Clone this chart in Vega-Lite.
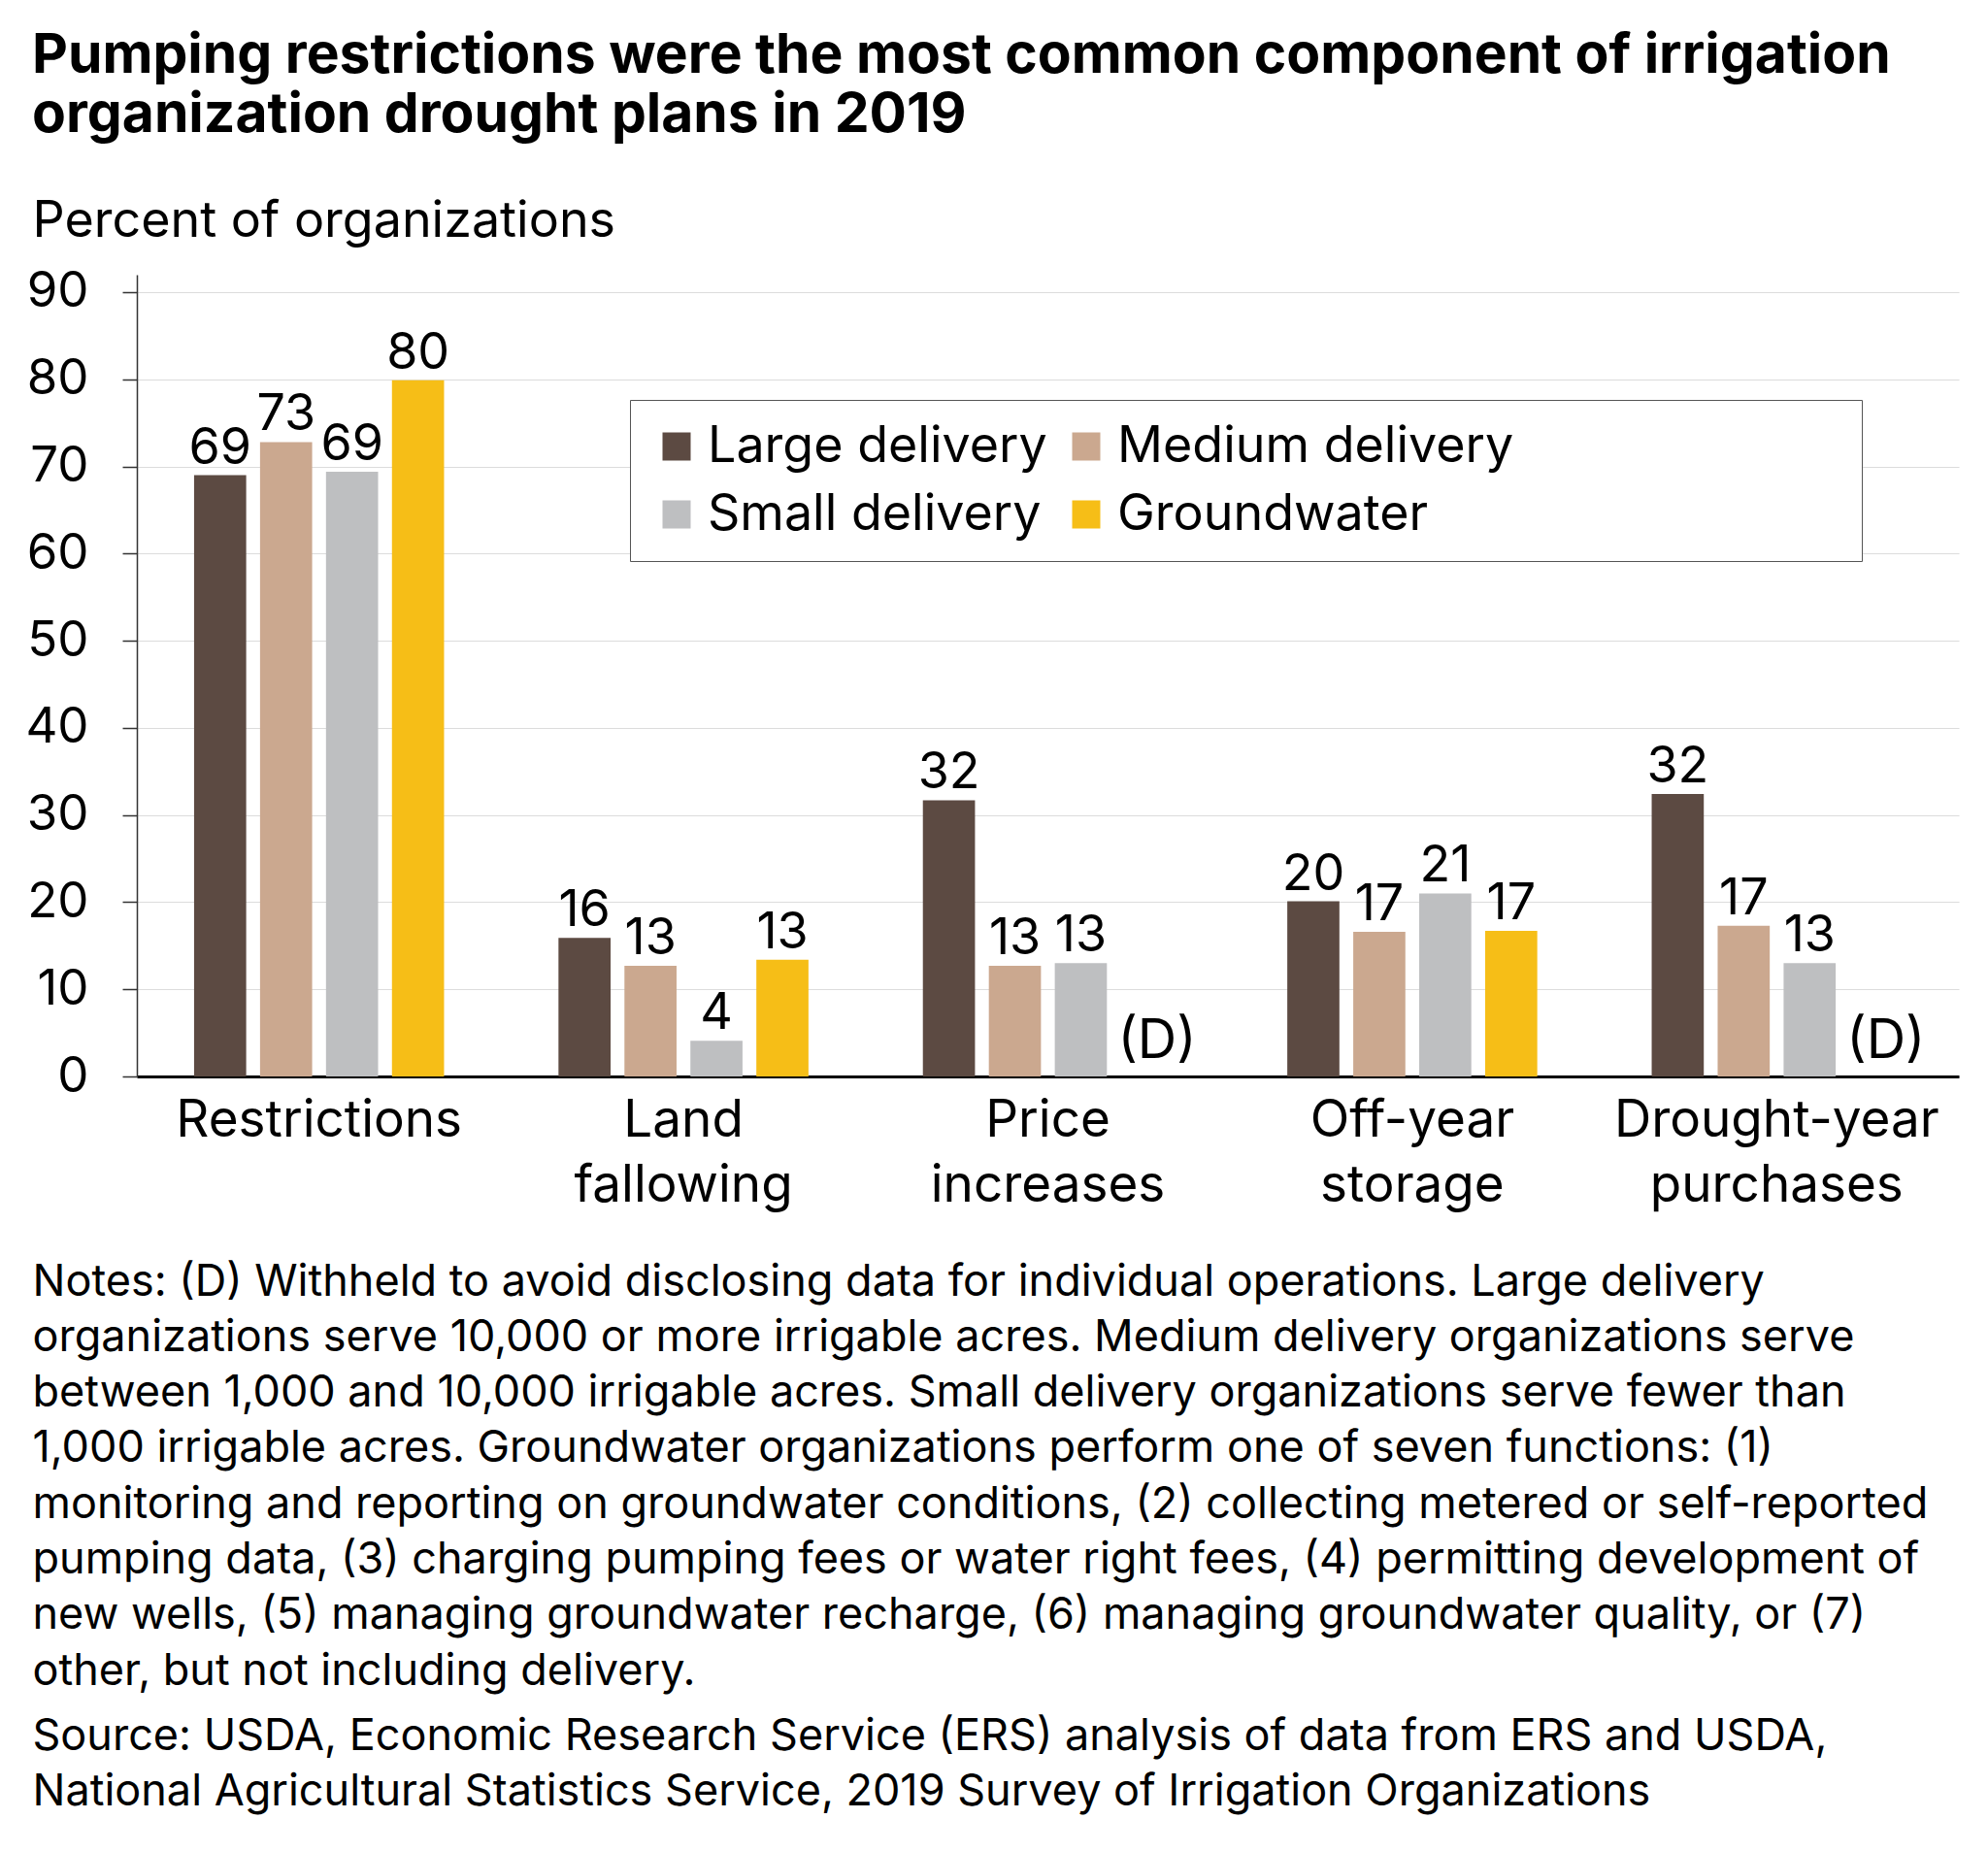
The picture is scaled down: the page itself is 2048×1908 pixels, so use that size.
{
  "$schema": "https://vega.github.io/schema/vega-lite/v6.json",
  "autosize": "none",
  "width": 1877,
  "height": 826,
  "padding": {"left": 141, "top": 283, "right": 30, "bottom": 799},
  "background": "white",
  "config": {"font": "Inter", "view": {"stroke": null}},
  "title": {
    "text": ["Pumping restrictions were the most common component of irrigation", "organization drought plans in 2019"],
    "anchor": "start",
    "frame": "group",
    "dx": -108,
    "fontSize": 57,
    "fontWeight": "bold",
    "lineHeight": 61,
    "color": "black",
    "offset": 53
  },
  "resolve": {"axis": {"x": "independent"}},
  "data": {
    "values": [
      {"category": "Restrictions", "group": "Large delivery", "value": 69.0, "label": "69"},
      {"category": "Restrictions", "group": "Medium delivery", "value": 72.8, "label": "73"},
      {"category": "Restrictions", "group": "Small delivery", "value": 69.4, "label": "69"},
      {"category": "Restrictions", "group": "Groundwater", "value": 79.9, "label": "80"},
      {"category": "Land fallowing", "group": "Large delivery", "value": 15.9, "label": "16"},
      {"category": "Land fallowing", "group": "Medium delivery", "value": 12.7, "label": "13"},
      {"category": "Land fallowing", "group": "Small delivery", "value": 4.1, "label": "4"},
      {"category": "Land fallowing", "group": "Groundwater", "value": 13.4, "label": "13"},
      {"category": "Price increases", "group": "Large delivery", "value": 31.7, "label": "32"},
      {"category": "Price increases", "group": "Medium delivery", "value": 12.7, "label": "13"},
      {"category": "Price increases", "group": "Small delivery", "value": 13.0, "label": "13"},
      {"category": "Price increases", "group": "Groundwater", "value": null, "label": "(D)"},
      {"category": "Off-year storage", "group": "Large delivery", "value": 20.1, "label": "20"},
      {"category": "Off-year storage", "group": "Medium delivery", "value": 16.6, "label": "17"},
      {"category": "Off-year storage", "group": "Small delivery", "value": 21.0, "label": "21"},
      {"category": "Off-year storage", "group": "Groundwater", "value": 16.7, "label": "17"},
      {"category": "Drought-year purchases", "group": "Large delivery", "value": 32.4, "label": "32"},
      {"category": "Drought-year purchases", "group": "Medium delivery", "value": 17.3, "label": "17"},
      {"category": "Drought-year purchases", "group": "Small delivery", "value": 13.0, "label": "13"},
      {"category": "Drought-year purchases", "group": "Groundwater", "value": null, "label": "(D)"}
    ]
  },
  "layer": [
    {
      "mark": {"type": "bar"},
      "encoding": {
        "x": {
          "field": "category",
          "type": "nominal",
          "sort": ["Restrictions", "Land fallowing", "Price increases", "Off-year storage", "Drought-year purchases"],
          "scale": {"paddingInner": 0.314, "paddingOuter": 0.157},
          "axis": {
            "labelAngle": 0,
            "labelExpr": "split(datum.label, ' ')",
            "labelFontSize": 53,
            "labelLineHeight": 67,
            "labelLimit": 500,
            "labelColor": "black",
            "labelPadding": 19,
            "ticks": false,
            "domainColor": "black",
            "domainWidth": 3,
            "title": [
              "Notes: (D) Withheld to avoid disclosing data for individual operations. Large delivery",
              "organizations serve 10,000 or more irrigable acres. Medium delivery organizations serve",
              "between 1,000 and 10,000 irrigable acres. Small delivery organizations serve fewer than",
              "1,000 irrigable acres. Groundwater organizations perform one of seven functions: (1)",
              "monitoring and reporting on groundwater conditions, (2) collecting metered or self-reported",
              "pumping data, (3) charging pumping fees or water right fees, (4) permitting development of",
              "new wells, (5) managing groundwater recharge, (6) managing groundwater quality, or (7)",
              "other, but not including delivery."
            ],
            "titleFontSize": 45,
            "titleFontWeight": "normal",
            "titleLineHeight": 57.3,
            "titleColor": "black",
            "titleAlign": "left",
            "titleBaseline": "top",
            "titleX": -108,
            "titleY": 189,
            "titleLimit": 2000
          }
        },
        "xOffset": {
          "field": "group",
          "sort": ["Large delivery", "Medium delivery", "Small delivery", "Groundwater"],
          "scale": {"paddingInner": 0.21, "paddingOuter": 0}
        },
        "y": {
          "field": "value",
          "type": "quantitative",
          "scale": {"domain": [0, 92], "nice": false},
          "axis": {
            "values": [0, 10, 20, 30, 40, 50, 60, 70, 80, 90],
            "title": "Percent of organizations",
            "titleAngle": 0,
            "titleAlign": "left",
            "titleBaseline": "alphabetic",
            "titleX": -108,
            "titleY": -40,
            "titleFontSize": 52,
            "titleFontWeight": "normal",
            "titleColor": "black",
            "labelFontSize": 51,
            "labelColor": "black",
            "labelPadding": 35,
            "tickSize": 15,
            "tickColor": "#333333",
            "tickWidth": 1.5,
            "domainColor": "#333333",
            "domainWidth": 1.5,
            "gridColor": "#dcdcdc",
            "gridWidth": 1.2
          }
        },
        "color": {
          "field": "group",
          "type": "nominal",
          "scale": {
            "domain": ["Large delivery", "Medium delivery", "Small delivery", "Groundwater"],
            "range": ["#5c4a42", "#cba88f", "#bebfc1", "#f6be17"]
          },
          "legend": {
            "title": null,
            "orient": "none",
            "legendX": 508,
            "legendY": 129,
            "direction": "horizontal",
            "columns": 2,
            "symbolType": "square",
            "symbolSize": 841,
            "symbolStrokeWidth": 0,
            "labelFontSize": 52,
            "labelColor": "black",
            "labelOffset": 6,
            "labelLimit": 1000,
            "labelExpr": "datum.label == 'Medium delivery' ? 'Medium delivery                       \u200b' : datum.label",
            "columnPadding": 14,
            "rowPadding": 18,
            "padding": 22,
            "strokeColor": "#555555",
            "fillColor": "white"
          }
        }
      }
    },
    {
      "mark": {"type": "text", "fontSize": 52, "baseline": "alphabetic", "dy": -12, "color": "black"},
      "transform": [{"filter": "isValid(datum.value)"}],
      "encoding": {
        "x": {
          "field": "category",
          "type": "nominal",
          "sort": ["Restrictions", "Land fallowing", "Price increases", "Off-year storage", "Drought-year purchases"],
          "axis": {
            "orient": "top",
            "labels": false,
            "ticks": false,
            "domain": false,
            "title": [
              "Source: USDA, Economic Research Service (ERS) analysis of data from ERS and USDA,",
              "National Agricultural Statistics Service, 2019 Survey of Irrigation Organizations"
            ],
            "titleFontSize": 45,
            "titleFontWeight": "normal",
            "titleLineHeight": 57.3,
            "titleColor": "black",
            "titleAlign": "left",
            "titleBaseline": "top",
            "titleX": -108,
            "titleY": 1483,
            "titleLimit": 2000
          }
        },
        "xOffset": {"field": "group", "sort": ["Large delivery", "Medium delivery", "Small delivery", "Groundwater"]},
        "y": {"field": "value", "type": "quantitative"},
        "text": {"field": "label"}
      }
    },
    {
      "mark": {"type": "text", "fontSize": 56, "baseline": "alphabetic", "align": "left", "dx": -30, "dy": -19, "color": "black"},
      "transform": [{"filter": "datum.label == '(D)'"}],
      "encoding": {
        "x": {
          "field": "category",
          "type": "nominal",
          "sort": ["Restrictions", "Land fallowing", "Price increases", "Off-year storage", "Drought-year purchases"],
          "axis": null
        },
        "xOffset": {"field": "group", "sort": ["Large delivery", "Medium delivery", "Small delivery", "Groundwater"]},
        "y": {"datum": 0, "type": "quantitative"},
        "text": {"field": "label"}
      }
    }
  ]
}
